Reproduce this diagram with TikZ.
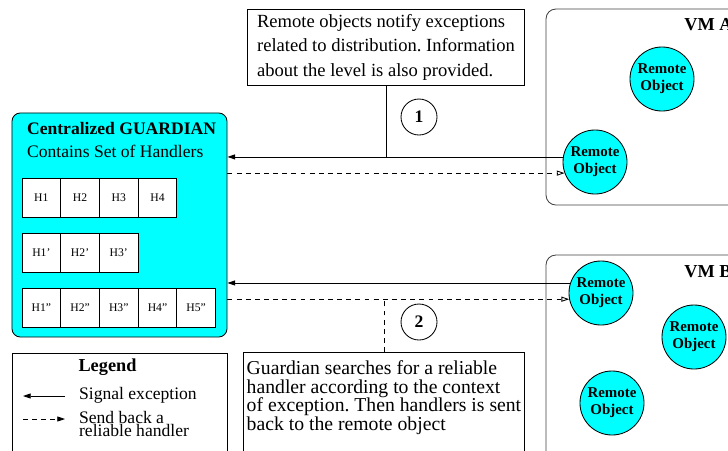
\documentclass[tikz,border=0pt]{standalone}
\usepackage{fontspec}
\setmainfont{Liberation Serif}
\usetikzlibrary{arrows.meta,positioning}
\definecolor{aqua}{RGB}{0,255,255}
\frenchspacing

\begin{document}
\begin{tikzpicture}[x=0.025cm, y=-0.025cm, line width=0.6pt, font=\fontsize{12.5}{16.4}\selectfont,
    guard/.style={draw, fill=aqua, rounded corners=6pt, minimum width=5.375cm, minimum height=5.6cm},
    hcell/.style={draw, fill=white, minimum width=0.9675cm, minimum height=0.975cm, inner sep=0pt, outer sep=0pt, font=\fontsize{8.3}{10}\selectfont},
    note/.style={draw, fill=white, align=left, anchor=north west, inner xsep=0pt},
    remobj/.style={draw, circle, fill=aqua, minimum size=1.6cm, inner sep=0pt, align=center, font=\fontsize{10.6}{12}\selectfont\bfseries},
    num/.style={draw, circle, minimum size=0.9cm, inner sep=0pt, font=\fontsize{12.5}{15}\selectfont\bfseries},
    vm/.style={draw=black!75, rounded corners=7pt},
    sig/.style={-{Triangle[length=5.5pt,width=3.6pt]}},
    back/.style={dash pattern=on 3.5pt off 3pt, -{Triangle[open,length=5.5pt,width=3.6pt]}}]
    \useasboundingbox (0,0) rectangle (728,450);

    % the guardian and its handler sets
    \node[guard] (guardian) at (119.5,225) {};
    \node[anchor=north west, align=left] (gtitle) at (22,117) {\textbf{Centralized GUARDIAN}\\Contains Set of Handlers};
    \node[hcell, anchor=north west] (h1) at (22,178) {H1};
    \node[hcell, right=0pt of h1] (h2) {H2};
    \node[hcell, right=0pt of h2] (h3) {H3};
    \node[hcell, right=0pt of h3] (h4) {H4};
    \node[hcell, below=0.4cm of h1] (h1p) {H1'};
    \node[hcell, right=0pt of h1p] (h2p) {H2'};
    \node[hcell, right=0pt of h2p] (h3p) {H3'};
    \node[hcell, below=0.4cm of h1p] (h1pp) {H1"};
    \node[hcell, right=0pt of h1pp] (h2pp) {H2"};
    \node[hcell, right=0pt of h2pp] (h3pp) {H3"};
    \node[hcell, right=0pt of h3pp] (h4pp) {H4"};
    \node[hcell, right=0pt of h4pp] (h5pp) {H5"};

    % virtual machines
    \draw[vm] (760,9) -- (546,9) -- (546,205) -- (760,205);
    \draw[vm] (760,255) -- (546,255) -- (546,470);
    \node[anchor=west, inner sep=0pt, font=\fontsize{13}{15}\selectfont\bfseries] (vmA) at (684,25) {VM A};
    \node[anchor=west, inner sep=0pt, font=\fontsize{13}{15}\selectfont\bfseries] (vmB) at (684,272) {VM B};
    \node[remobj] (roA1) at (662,79) {Remote\\Object};
    \node[remobj] (roA2) at (595,162) {Remote\\Object};
    \node[remobj] (roB1) at (601,293) {Remote\\Object};
    \node[remobj] (roB2) at (694,337) {Remote\\Object};
    \node[remobj] (roB3) at (612,403) {Remote\\Object};

    % notes
    \node[note, minimum width=6.925cm, minimum height=1.9cm, font=\fontsize{13.2}{17.4}\selectfont] (note1) at (247,9) {Remote objects notify exceptions\\related to distribution. Information\\about the level is also provided.};
    \node[note, minimum width=7.025cm, inner ysep=6pt, text depth=2.2cm, font=\fontsize{14}{13.2}\selectfont] (note2) at (243,352) {Guardian searches for a reliable\\handler according to the context\\of exception. Then handlers is sent\\back to the remote object};
    \node[num] (n1) at (419,117) {1};
    \node[num] (n2) at (419,322) {2};

    \draw[sig] (roA2.171) -- (roA2.171 -| guardian.east);
    \draw[back] (roA2.200 -| guardian.east) -- (roA2.200);
    \draw (note1.south) -- (note1.south |- roA2.171);
    \draw[sig] (roB1.162) -- (roB1.162 -| guardian.east);
    \draw[back] (roB1.191 -| guardian.east) -- (roB1.191);
    \draw[dash pattern=on 3.5pt off 3pt] (note2.north) -- (note2.north |- roB1.191);

    % legend
    \node[draw, fill=white, minimum width=5.375cm, minimum height=2.8cm, anchor=north west] (legend) at (12,353) {};
    \node[font=\fontsize{13}{15}\selectfont\bfseries] (legtitle) at (107.5,367) {Legend};
    \coordinate (sigA) at (65,396);
    \coordinate (sigB) at (23,396);
    \draw[sig] (sigA) -- (sigB);
    \node[anchor=west] (sigtxt) at (74,395) {Signal exception};
    \coordinate (backA) at (23,419);
    \coordinate (backB) at (65,419);
    \draw[dash pattern=on 3.5pt off 3pt, -{Triangle[length=5.5pt,width=3.6pt]}] (backA) -- (backB);
    \node[anchor=west, align=left, font=\fontsize{12.5}{9.6}\selectfont] (backtxt) at (74,424) {Send back a\\reliable handler};
\end{tikzpicture}
\end{document}
